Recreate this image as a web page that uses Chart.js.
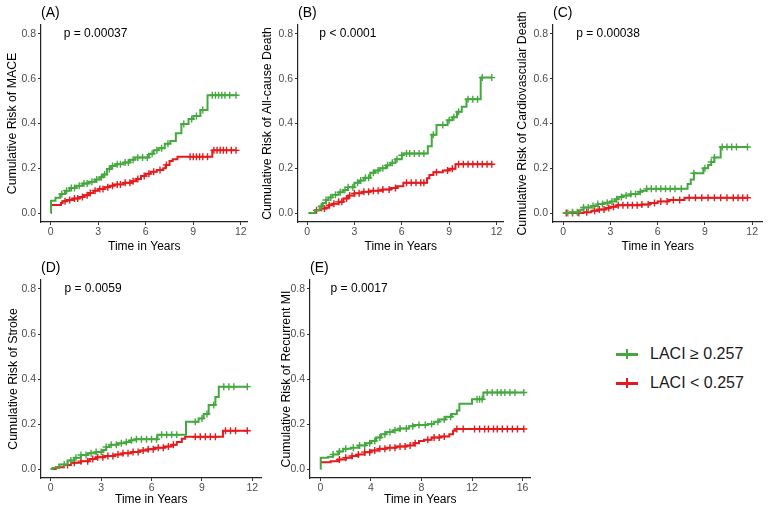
<!DOCTYPE html>
<html>
<head>
<meta charset="utf-8">
<script src="https://cdn.jsdelivr.net/npm/chart.js@4"></script>
<style>
  body { margin: 0; background: #fff; width: 774px; height: 507px; position: relative; overflow: hidden;
         font-family: "Liberation Sans", Arial, sans-serif; }
  canvas { position: absolute; }
  .key { position: absolute; left: 616px; height: 20px; line-height: 20px; font-size: 16px; color: #1a1a1a; white-space: nowrap; }
  .sym { position: absolute; left: 0; top: 9px; width: 22px; height: 2.5px; }
  .sym::after { content: ''; position: absolute; left: 10px; top: -4px; width: 2px; height: 10px; background: inherit; }
  .key span.txt { position: absolute; left: 34px; top: 0; }
</style>
</head>
<body>
<canvas id="panelA"></canvas>
<canvas id="panelB"></canvas>
<canvas id="panelC"></canvas>
<canvas id="panelD"></canvas>
<canvas id="panelE"></canvas>
<div id="legend"></div>
<script>
// cumulative risk step curves: time (years) and risk after each step, plus censor times
const maceHiTime = [0, 0.02, 0.3, 0.6, 0.9, 1.2, 1.6, 2.0, 2.4, 2.8, 3.1, 3.3, 3.55, 3.8, 4.1, 4.6, 5.0, 5.3, 6.2, 6.5, 6.8, 7.2, 7.55, 7.9, 8.25, 8.7, 9.0, 9.45, 9.9, 11.7];
const maceHiRisk = [0, 0.055, 0.068, 0.085, 0.1, 0.112, 0.122, 0.132, 0.14, 0.15, 0.16, 0.172, 0.197, 0.21, 0.218, 0.226, 0.238, 0.248, 0.265, 0.28, 0.29, 0.31, 0.322, 0.356, 0.398, 0.42, 0.433, 0.46, 0.526, 0.526];
const maceHiCens = [0.7, 1.0, 1.3, 1.5, 1.8, 2.1, 2.3, 2.6, 2.9, 3.2, 3.4, 3.7, 3.9, 4.2, 4.4, 4.7, 4.9, 5.2, 5.5, 5.8, 6.1, 6.4, 6.7, 7.0, 7.4, 8.4, 8.9, 9.2, 9.6, 10.2, 10.4, 10.6, 10.8, 11.0, 11.3, 11.7];
const maceLoTime = [0, 0.65, 0.75, 1.0, 1.4, 1.8, 2.1, 2.4, 2.7, 3.0, 3.4, 3.7, 4.0, 4.6, 5.1, 5.4, 5.7, 6.0, 6.3, 6.7, 7.1, 7.25, 7.5, 7.7, 8.0, 10.2, 11.7];
const maceLoRisk = [0.036, 0.045, 0.053, 0.058, 0.065, 0.072, 0.08, 0.09, 0.1, 0.107, 0.115, 0.122, 0.128, 0.135, 0.142, 0.152, 0.165, 0.175, 0.185, 0.192, 0.2, 0.215, 0.232, 0.24, 0.252, 0.28, 0.28];
const maceLoCens = [0.9, 1.2, 1.5, 1.7, 2.0, 2.3, 2.5, 2.8, 3.1, 3.3, 3.6, 3.9, 4.2, 4.4, 4.7, 5.0, 5.2, 5.5, 5.9, 6.2, 6.5, 6.9, 7.3, 8.8, 9.0, 9.2, 9.4, 9.6, 9.9, 10.3, 10.5, 10.7, 10.9, 11.1, 11.4, 11.7];

const deathHiTime = [0.1, 0.5, 0.8, 1.0, 1.2, 1.35, 1.6, 2.0, 2.3, 2.6, 3.0, 3.3, 3.6, 4.0, 4.3, 4.6, 5.0, 5.3, 5.6, 6.0, 6.1, 7.65, 7.9, 8.2, 8.9, 9.2, 9.5, 9.8, 10.1, 11.0, 11.7];
const deathHiRisk = [0, 0.012, 0.03, 0.045, 0.058, 0.07, 0.082, 0.093, 0.103, 0.115, 0.135, 0.145, 0.158, 0.18, 0.19, 0.2, 0.213, 0.225, 0.24, 0.258, 0.266, 0.298, 0.35, 0.393, 0.415, 0.428, 0.452, 0.475, 0.508, 0.605, 0.605];
const deathHiCens = [0.9, 1.2, 1.5, 1.8, 2.1, 2.4, 2.6, 2.9, 3.2, 3.4, 3.7, 3.9, 4.2, 4.5, 4.8, 5.1, 5.4, 5.7, 6.0, 6.3, 6.5, 6.8, 7.1, 7.4, 8.0, 8.6, 9.0, 9.3, 9.6, 10.2, 10.5, 10.8, 11.1, 11.7];
const deathLoTime = [0.1, 0.5, 0.9, 1.2, 1.4, 1.6, 2.0, 2.3, 2.6, 3.0, 3.5, 4.0, 4.8, 5.3, 5.7, 6.1, 7.6, 7.75, 8.0, 8.6, 9.0, 9.4, 11.7];
const deathLoRisk = [0, 0.012, 0.02, 0.025, 0.035, 0.042, 0.05, 0.065, 0.078, 0.088, 0.095, 0.1, 0.105, 0.112, 0.12, 0.135, 0.155, 0.17, 0.182, 0.19, 0.198, 0.218, 0.218];
const deathLoCens = [0.6, 1.1, 1.4, 1.7, 2.0, 2.2, 2.5, 2.7, 3.0, 3.3, 3.6, 3.9, 4.2, 4.5, 4.8, 5.2, 5.6, 6.3, 6.6, 6.9, 7.2, 7.4, 8.2, 8.9, 9.2, 9.6, 9.9, 10.2, 10.5, 10.8, 11.1, 11.4, 11.7];

const cvdHiTime = [0, 0.4, 1.1, 1.3, 1.8, 2.2, 2.6, 3.0, 3.3, 3.5, 3.8, 4.3, 4.8, 5.0, 5.3, 7.9, 8.1, 8.3, 8.9, 9.2, 9.4, 9.6, 10.0, 11.7];
const cvdHiRisk = [0, 0.004, 0.015, 0.025, 0.032, 0.04, 0.046, 0.052, 0.062, 0.072, 0.078, 0.085, 0.095, 0.1, 0.108, 0.13, 0.15, 0.178, 0.2, 0.215, 0.228, 0.248, 0.295, 0.295];
const cvdHiCens = [0.3, 0.6, 0.9, 1.3, 1.6, 1.9, 2.2, 2.5, 2.8, 3.1, 3.4, 3.7, 4.0, 4.3, 4.6, 4.9, 5.3, 5.6, 5.9, 6.2, 6.5, 6.8, 7.1, 7.5, 8.3, 9.0, 9.4, 9.6, 10.1, 10.4, 10.7, 11.0, 11.7];
const cvdLoTime = [0, 1.3, 1.8, 2.2, 2.7, 3.0, 3.4, 5.0, 5.5, 6.0, 6.7, 7.7, 11.7];
const cvdLoRisk = [0, 0.003, 0.01, 0.016, 0.022, 0.028, 0.035, 0.038, 0.045, 0.052, 0.058, 0.068, 0.068];
const cvdLoCens = [0.2, 0.6, 1.0, 1.5, 2.0, 2.3, 2.6, 2.9, 3.2, 3.5, 3.8, 4.1, 4.4, 4.7, 5.0, 5.4, 5.8, 6.2, 6.6, 7.0, 7.4, 8.0, 8.4, 8.8, 9.2, 9.6, 10.0, 10.4, 10.8, 11.1, 11.4, 11.7];

const strokeHiTime = [0, 0.1, 0.5, 1.0, 1.4, 1.8, 2.2, 2.7, 3.1, 3.3, 3.5, 4.0, 4.5, 4.8, 5.0, 6.35, 8.05, 8.8, 9.1, 9.4, 9.8, 10.0, 11.7];
const strokeHiRisk = [0, 0.005, 0.02, 0.038, 0.05, 0.062, 0.07, 0.076, 0.085, 0.098, 0.108, 0.114, 0.12, 0.128, 0.132, 0.152, 0.21, 0.225, 0.245, 0.285, 0.32, 0.366, 0.366];
const strokeHiCens = [0.8, 1.2, 1.5, 1.8, 2.1, 2.4, 2.7, 3.0, 3.3, 3.6, 3.9, 4.2, 4.5, 4.8, 5.1, 5.4, 5.7, 6.0, 6.3, 6.6, 6.9, 7.2, 7.5, 8.6, 9.0, 9.3, 9.7, 10.3, 10.6, 10.9, 11.7];
const strokeLoTime = [0, 0.3, 0.8, 1.2, 1.8, 2.3, 2.7, 3.2, 3.8, 4.3, 4.8, 5.3, 5.8, 6.2, 6.8, 7.2, 7.5, 7.8, 8.0, 10.25, 11.7];
const strokeLoRisk = [0, 0.008, 0.018, 0.028, 0.035, 0.045, 0.052, 0.058, 0.064, 0.07, 0.076, 0.082, 0.088, 0.095, 0.1, 0.108, 0.12, 0.135, 0.143, 0.17, 0.17];
const strokeLoCens = [1.0, 1.4, 1.8, 2.2, 2.5, 2.8, 3.1, 3.4, 3.7, 4.0, 4.3, 4.6, 4.9, 5.2, 5.5, 5.8, 6.1, 6.4, 6.7, 7.0, 7.3, 8.6, 8.9, 9.2, 9.5, 9.8, 10.4, 10.7, 11.0, 11.7];

const miHiTime = [0, 0.02, 0.6, 1.0, 1.4, 1.8, 2.4, 3.0, 3.6, 4.0, 4.4, 4.8, 5.2, 5.8, 6.3, 7.0, 7.4, 8.5, 9.0, 9.4, 9.9, 10.4, 10.8, 11.0, 12.0, 12.9, 16.1];
const miHiRisk = [0, 0.05, 0.055, 0.065, 0.078, 0.09, 0.095, 0.105, 0.115, 0.125, 0.14, 0.155, 0.165, 0.172, 0.18, 0.19, 0.196, 0.2, 0.21, 0.22, 0.232, 0.245, 0.26, 0.29, 0.31, 0.34, 0.34];
const miHiCens = [1.0, 1.5, 2.0, 2.6, 3.1, 3.5, 3.9, 4.3, 4.7, 5.1, 5.5, 5.9, 6.3, 6.8, 7.3, 7.8, 8.3, 8.8, 9.3, 9.8, 10.3, 12.4, 12.6, 12.8, 13.2, 13.6, 14.0, 14.3, 14.6, 15.0, 15.4, 16.1];
const miLoTime = [0, 0.8, 1.4, 2.0, 2.5, 3.0, 3.5, 4.0, 4.6, 5.2, 6.0, 6.8, 7.4, 7.8, 8.2, 8.8, 9.5, 10.2, 10.5, 10.7, 16.1];
const miLoRisk = [0.03, 0.035, 0.042, 0.05, 0.058, 0.065, 0.075, 0.082, 0.09, 0.095, 0.1, 0.105, 0.115, 0.125, 0.13, 0.14, 0.145, 0.155, 0.17, 0.178, 0.178];
const miLoCens = [1.5, 2.0, 2.5, 3.0, 3.5, 3.9, 4.3, 4.7, 5.1, 5.5, 5.9, 6.3, 6.7, 7.1, 7.5, 8.5, 9.0, 9.4, 9.8, 10.8, 11.3, 12.2, 12.6, 13.0, 13.3, 13.7, 14.0, 14.4, 14.8, 15.2, 15.6, 16.1];

const panelLetters = ['(A)', '(B)', '(C)', '(D)', '(E)'];
const yTitles = ['Cumulative Risk of MACE', 'Cumulative Risk of All-cause Death', 'Cumulative Risk of Cardiovascular Death',
                 'Cumulative Risk of Stroke', 'Cumulative Risk of Recurrent MI'];
const pLabels = ['p = 0.00037', 'p < 0.0001', 'p = 0.00038', 'p = 0.0059', 'p = 0.0017'];
const pLabelX = [0.82, 0.78, 0.83, 0.82, 0.8];
const pLabelY = 0.8;
const xTicks12 = [0, 3, 6, 9, 12];
const xTicks16 = [0, 4, 8, 12, 16];
const yTicks = [0, 0.2, 0.4, 0.6, 0.8];
const groupLabels = ['LACI ≥ 0.257', 'LACI < 0.257'];

const GREEN = '#45a83f';
const RED = '#e41a1c';
const FONT = '"Liberation Sans", Arial, sans-serif';

Chart.defaults.font.family = FONT;

// where each panel sits on the page
const panels = [
  { id: 'panelA', left: 5,   top: 0,   width: 248, height: 254, padTop: 25, yW: 36, xH: 32, xMin: -0.615, xMax: 12.43, xTicks: xTicks12,
    hi: [maceHiTime, maceHiRisk, maceHiCens], lo: [maceLoTime, maceLoRisk, maceLoCens] },
  { id: 'panelB', left: 260, top: 0,   width: 249, height: 254, padTop: 25, yW: 38, xH: 32, xMin: -0.574, xMax: 12.45, xTicks: xTicks12,
    hi: [deathHiTime, deathHiRisk, deathHiCens], lo: [deathLoTime, deathLoRisk, deathLoCens] },
  { id: 'panelC', left: 515, top: 0,   width: 253, height: 254, padTop: 25, yW: 38, xH: 32, xMin: -0.64, xMax: 12.66, xTicks: xTicks12,
    hi: [cvdHiTime, cvdHiRisk, cvdHiCens], lo: [cvdLoTime, cvdLoRisk, cvdLoCens] },
  { id: 'panelD', left: 6,   top: 250, width: 261, height: 257, padTop: 30, yW: 35, xH: 29, xMin: -0.58, xMax: 12.55, xTicks: xTicks12,
    hi: [strokeHiTime, strokeHiRisk, strokeHiCens], lo: [strokeLoTime, strokeLoRisk, strokeLoCens] },
  { id: 'panelE', left: 279, top: 250, width: 257, height: 257, padTop: 30, yW: 31, xH: 29, xMin: -0.83, xMax: 16.64, xTicks: xTicks16,
    hi: [miHiTime, miHiRisk, miHiCens], lo: [miLoTime, miLoRisk, miLoCens] }
];

// risk of the step curve at time t
function stepValue(times, risks, t) {
  let v = risks[0];
  for (let i = 0; i < times.length; i++) {
    if (times[i] <= t) v = risks[i];
  }
  return v;
}

function curveSets(group, color) {
  const [times, risks, cens] = group;
  return [
    {
      data: times.map((t, i) => ({ x: t, y: risks[i] })),
      showLine: true,
      stepped: 'before',
      borderColor: color,
      borderWidth: 2,
      pointRadius: 0,
      fill: false
    },
    {
      data: cens.map((t) => ({ x: t, y: stepValue(times, risks, t) })),
      showLine: false,
      pointStyle: 'cross',
      pointRadius: 3.5,
      pointBorderWidth: 1.4,
      pointBorderColor: color,
      borderColor: color
    }
  ];
}

const panelText = {
  id: 'panelText',
  afterDraw(chart, args, opts) {
    const { ctx, chartArea, scales } = chart;
    ctx.save();
    ctx.fillStyle = '#000';
    ctx.textBaseline = 'middle';
    ctx.textAlign = 'left';
    ctx.font = '14px ' + FONT;
    ctx.fillText(opts.letter, chartArea.left, chartArea.top - 11.5);
    ctx.font = '12px ' + FONT;
    ctx.fillText(opts.p, scales.x.getPixelForValue(opts.px), scales.y.getPixelForValue(pLabelY));
    ctx.restore();
  }
};

panels.forEach((p, idx) => {
  const canvas = document.getElementById(p.id);
  canvas.width = p.width;
  canvas.height = p.height;
  canvas.style.left = p.left + 'px';
  canvas.style.top = p.top + 'px';

  new Chart(canvas, {
    type: 'scatter',
    data: {
      datasets: [...curveSets(p.hi, GREEN), ...curveSets(p.lo, RED)]
    },
    options: {
      responsive: false,
      animation: false,
      events: [],
      layout: { padding: { top: p.padTop, right: 0, bottom: 0, left: 0 } },
      plugins: {
        legend: { display: false },
        tooltip: { enabled: false },
        panelText: { letter: panelLetters[idx], p: pLabels[idx], px: pLabelX[idx] }
      },
      scales: {
        x: {
          type: 'linear',
          min: p.xMin,
          max: p.xMax,
          afterFit: (s) => { s.height = p.xH; },
          afterBuildTicks: (s) => { s.ticks = p.xTicks.map((v) => ({ value: v })); },
          ticks: { color: '#4d4d4d', font: { size: 10.5 }, padding: 1, maxRotation: 0, callback: (v) => String(v) },
          grid: { display: true, drawOnChartArea: false, drawTicks: true, tickLength: 3, color: '#333', lineWidth: 1 },
          border: { display: true, color: '#222', width: 1.2 },
          title: { display: true, text: 'Time in Years', color: '#000', font: { size: 12 }, padding: 0 }
        },
        y: {
          type: 'linear',
          min: -0.04,
          max: 0.84,
          afterFit: (s) => { s.width = p.yW; },
          afterBuildTicks: (s) => { s.ticks = yTicks.map((v) => ({ value: v })); },
          ticks: { color: '#4d4d4d', font: { size: 10.5 }, padding: 2, callback: (v) => v.toFixed(1) },
          grid: { display: true, drawOnChartArea: false, drawTicks: true, tickLength: 3, color: '#333', lineWidth: 1 },
          border: { display: true, color: '#222', width: 1.2 },
          title: { display: true, text: yTitles[idx], color: '#000', font: { size: 12.3 }, padding: 0 }
        }
      }
    },
    plugins: [panelText]
  });
});

// legend
const legend = document.getElementById('legend');
[GREEN, RED].forEach((color, i) => {
  const row = document.createElement('div');
  row.className = 'key';
  row.style.top = (344 + i * 29) + 'px';
  const sym = document.createElement('span');
  sym.className = 'sym';
  sym.style.background = color;
  const txt = document.createElement('span');
  txt.className = 'txt';
  txt.textContent = groupLabels[i];
  row.appendChild(sym);
  row.appendChild(txt);
  legend.appendChild(row);
});
</script>
</body>
</html>
